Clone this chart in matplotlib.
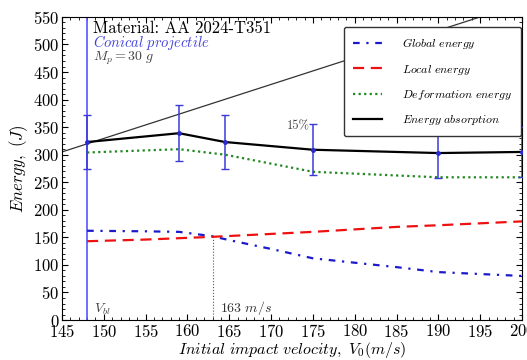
import numpy as np
import matplotlib
matplotlib.use('Agg')
import matplotlib.pyplot as plt
from matplotlib.ticker import MultipleLocator

plt.rcParams['mathtext.fontset'] = 'cm'
plt.rcParams['font.family'] = 'cmr10'
plt.rcParams['axes.formatter.use_mathtext'] = True

# energy absorption (black) with 15% error bars
v_abs = [148, 159, 164.5, 175, 190, 200]
e_abs = [323, 339, 323, 309, 303, 305]

# deformation energy (green dotted)
v_def = [148, 159, 164.5, 175, 190, 200]
e_def = [304, 310, 300, 269, 259, 259]

# global energy (blue dash-dot)
v_glob = [148, 155, 159, 163, 165, 170, 175, 185, 190, 200]
e_glob = [162, 161, 160, 152, 145, 129, 112, 96, 87, 80]

# local energy (red dashed)
v_loc = [148, 155, 163, 175, 185, 190, 200]
e_loc = [143, 146, 151, 160, 169, 172, 179]

# thin reference line
v_ref = [145, 195]
e_ref = [305, 550]

v_bl = 148
v_cross = 163
e_cross = 152
err_pct = 0.15

fig = plt.figure(figsize=(5.27, 3.6), dpi=100)
ax = fig.add_axes([0.1176, 0.111, 0.873, 0.842])

ax.plot(v_ref, e_ref, color='#333333', lw=0.9)
ax.axvline(v_bl, color='#5555ff', lw=1.2)
ax.plot([v_cross, v_cross], [0, e_cross], color='#555555', lw=0.8, ls=':')

ax.plot(v_glob, e_glob, color='#1a1acc', lw=1.6, ls=(0, (3, 3, 1, 3)), label=r'$Global\ energy$')
ax.plot(v_loc, e_loc, color='#ee1111', lw=1.6, ls=(0, (5, 3)), label=r'$Local\ energy$')
ax.plot(v_def, e_def, color='#228822', lw=1.6, ls=(0, (1, 1.5)), label=r'$Deformation\ energy$')
ax.plot(v_abs, e_abs, color='black', lw=1.6, label=r'$Energy\ absorption$')

yerr = np.array(e_abs) * err_pct
ax.errorbar(v_abs, e_abs, yerr=yerr, fmt='o', ms=2.5, color='#2a2ad0', ecolor='#3a3ad8',
            elinewidth=1.1, capsize=3, capthick=1.0, zorder=5)

# annotations
ax.text(148.7, 530, 'Material: AA 2024-T351', fontsize=12, color='black', va='center')
ax.text(148.7, 503, r'$Conical\ projectile$', fontsize=10.5, color='#4040dd', va='center')
ax.text(148.7, 475, r'$M_p = 30\ g$', fontsize=10, color='#444444', va='center')
ax.text(171.9, 352, '15%', fontsize=9, color='#444444', va='center')
ax.text(148.8, 20, r'$V_{bl}$', fontsize=10, color='#444444', va='center')
ax.text(163.9, 22, r'$163\ m/s$', fontsize=10, color='#333333', va='center')

ax.set_xlim(145, 200)
ax.set_ylim(0, 550)
ax.xaxis.set_major_locator(MultipleLocator(5))
ax.xaxis.set_minor_locator(MultipleLocator(1))
ax.yaxis.set_major_locator(MultipleLocator(50))
ax.yaxis.set_minor_locator(MultipleLocator(10))
ax.tick_params(which='both', direction='in', top=True, right=True, labelsize=12, pad=2)
ax.tick_params(which='major', length=4)
ax.tick_params(which='minor', length=2)

ax.set_xlabel(r'$Initial\ impact\ velocity,\ V_0(m/s)$', fontsize=11.5, labelpad=0)
ax.set_ylabel(r'$Energy,\ (J)$', fontsize=12, labelpad=2)

leg = ax.legend(loc='upper right', bbox_to_anchor=(0.998, 0.967), borderaxespad=0, fontsize=8.5,
                fancybox=True, framealpha=1, edgecolor='#333333', handlelength=2.4, borderpad=0.8,
                labelspacing=0.95, handletextpad=1.7)
leg.get_frame().set_linewidth(1.0)

fig.savefig('out.png', dpi=100)
